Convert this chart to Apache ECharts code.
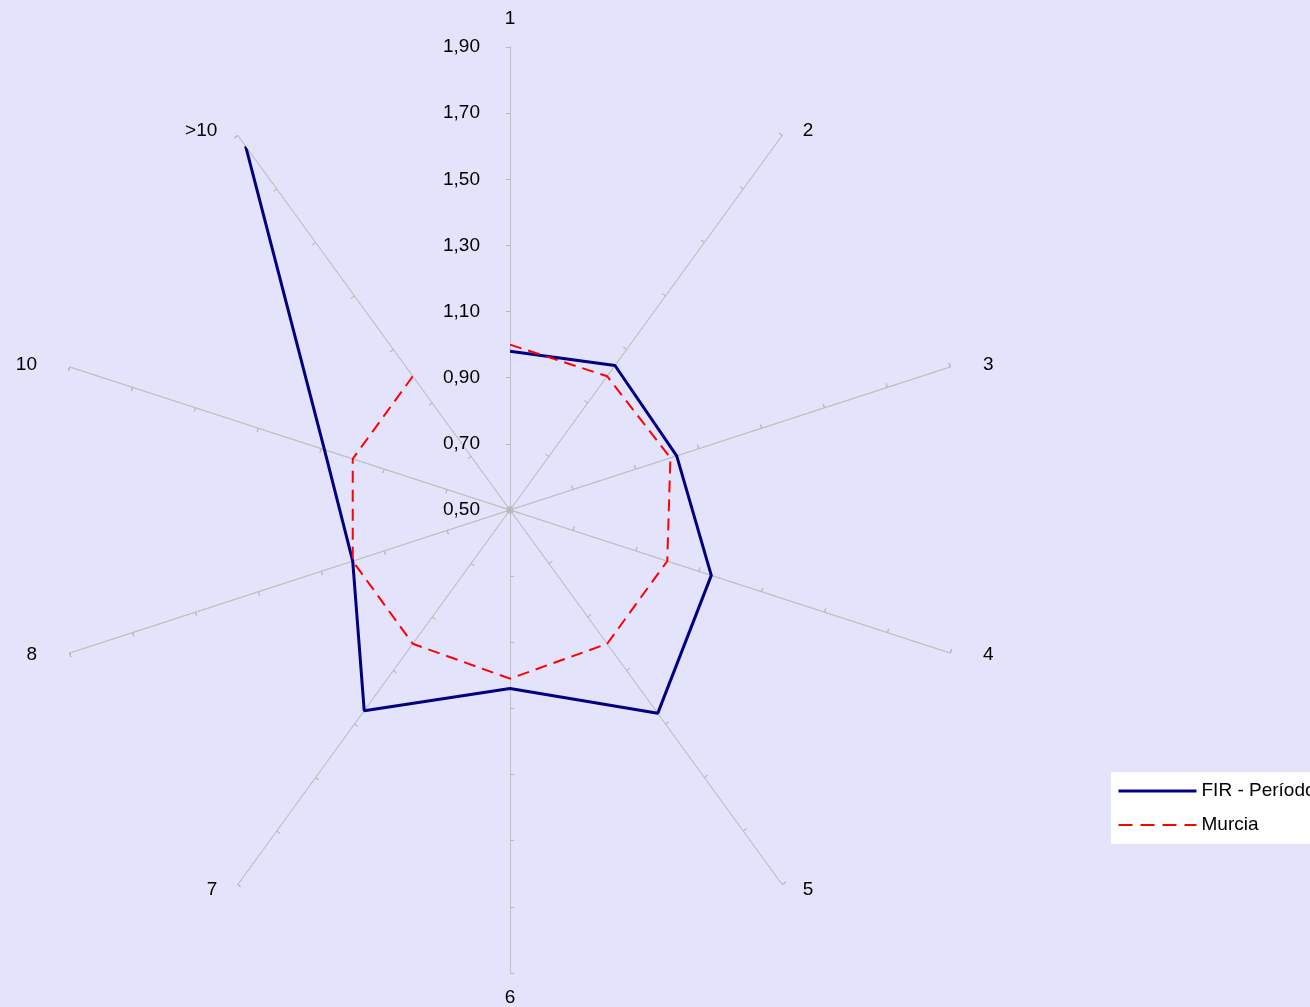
<!DOCTYPE html>
<html>
<head>
<meta charset="utf-8">
<script src="https://cdn.jsdelivr.net/npm/echarts@6/dist/echarts.min.js"></script>
<style>
  html, body { margin: 0; padding: 0; background: #E3E3FB; }
  #chart { width: 1310px; height: 1007px; }
</style>
</head>
<body>
<div id="chart"></div>
<script>
// ---- data ----
const categories = ['1', '2', '3', '4', '5', '6', '7', '8', '10', '>10'];
const firValues = [0.98, 1.04, 1.03, 1.14, 1.26, 1.04, 1.25, 1.00, 1.09, 1.86];
const murciaValues = [1.00, 1.00, 1.01, 1.00, 1.00, 1.01, 1.00, 1.00, 1.00, 1.00];
const tickLabels = ['0,50', '0,70', '0,90', '1,10', '1,30', '1,50', '1,70', '1,90'];
const seriesNames = ['FIR - Período', 'Murcia'];
const axisMin = 0.5;
const axisMax = 1.9;
const axisStep = 0.2;

// ---- layout ----
const CX = 510, CY = 510, R = 463;
const FONT = '"Liberation Sans", Arial, sans-serif';

// radar places indicators counter-clockwise; reverse to get clockwise order
const radarOrder = [categories[0]].concat(categories.slice(1).reverse());
const indicators = radarOrder.map(n => ({ name: n, min: axisMin, max: axisMax }));

function nameStyleKey(name) {
  const i = categories.indexOf(name);
  if (i === 0) return 't';
  if (i === 5) return 'b';
  if (i === 1 || i === 4 || i === 6 || i === 9) return 'd';
  return 's';
}

function radarCfg(inside, showName) {
  return {
    center: [CX, CY],
    radius: R,
    startAngle: 90,
    shape: 'polygon',
    splitNumber: Math.round((axisMax - axisMin) / axisStep),
    indicator: indicators,
    nameGap: 6,
    axisName: {
      show: showName,
      color: '#000',
      fontSize: 19,
      fontFamily: FONT,
      formatter: function (name) { return '{' + nameStyleKey(name) + '|' + name + '}'; },
      rich: {
        t: { fontSize: 19, fontFamily: FONT, color: '#000', padding: [0, 0, 13, 0] },
        b: { fontSize: 19, fontFamily: FONT, color: '#000', padding: [9, 0, 0, 0] },
        d: { fontSize: 19, fontFamily: FONT, color: '#000', padding: [0, 17, 0, 17] },
        s: { fontSize: 19, fontFamily: FONT, color: '#000', padding: [0, 27, 0, 27] }
      }
    },
    axisLine: { show: true, lineStyle: { color: '#C0C0C0', width: 1 } },
    axisTick: { show: true, inside: inside, length: 4, lineStyle: { color: '#B8B8B8', width: 1 } },
    axisLabel: { show: false },
    splitLine: { show: false },
    splitArea: { show: false }
  };
}

const chart = echarts.init(document.getElementById('chart'), null, { renderer: 'canvas' });

const option = {
  backgroundColor: '#E3E3FB',
  animation: false,
  textStyle: { fontFamily: FONT },
  radar: [radarCfg(false, true), radarCfg(true, false)],
  polar: { center: [CX, CY], radius: R },
  angleAxis: {
    type: 'category',
    data: categories,
    startAngle: 90,
    clockwise: true,
    boundaryGap: false,
    axisLine: { show: false },
    axisTick: { show: false },
    axisLabel: { show: false },
    splitLine: { show: false }
  },
  radiusAxis: {
    type: 'value',
    min: axisMin,
    max: axisMax,
    interval: axisStep,
    axisLine: { show: false },
    axisTick: { show: false },
    splitLine: { show: false },
    axisLabel: {
      show: true,
      margin: 30,
      fontSize: 19,
      fontFamily: FONT,
      color: '#000',
      formatter: function (v) { return tickLabels[Math.round((v - axisMin) / axisStep)]; }
    }
  },
  legend: {
    orient: 'vertical',
    left: 1111,
    top: 772,
    backgroundColor: '#FFFFFF',
    padding: [9, 10, 9, 6],
    itemWidth: 78,
    itemHeight: 14,
    itemGap: 14,
    itemStyle: { opacity: 0 },
    textStyle: { fontSize: 19, fontFamily: FONT, color: '#000', lineHeight: 20 },
    data: [
      { name: seriesNames[0], lineStyle: { width: 3 } },
      { name: seriesNames[1], lineStyle: { width: 2, type: [14, 8] } }
    ]
  },
  series: [
    {
      name: seriesNames[0],
      type: 'line',
      coordinateSystem: 'polar',
      symbol: 'none',
      showSymbol: false,
      lineStyle: { color: '#000080', width: 3 },
      itemStyle: { color: '#000080' },
      data: firValues.map((v, i) => [v, categories[i]])
    },
    {
      name: seriesNames[1],
      type: 'line',
      coordinateSystem: 'polar',
      symbol: 'none',
      showSymbol: false,
      lineStyle: { color: '#FF0000', width: 2, type: [12, 7] },
      itemStyle: { color: '#FF0000' },
      data: murciaValues.map((v, i) => [v, categories[i]])
    }
  ]
};

chart.setOption(option);
</script>
</body>
</html>
